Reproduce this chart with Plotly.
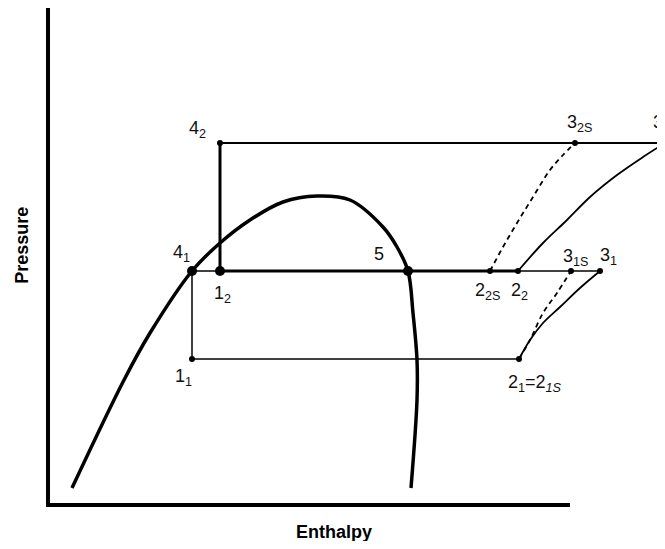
import plotly.graph_objects as go

# Saturation dome (enthalpy, pressure) in arbitrary units
dome_h = [24, 76, 102, 144, 172, 202, 235, 269, 302, 335, 349, 360, 365, 369, 369, 363]
dome_p = [17, 125, 172, 234, 262, 285, 303, 309, 305, 278, 258, 234, 192, 145, 105, 17]

# State points
p_low, p_mid, p_high = 146, 234, 362
h_41, h_12, h_5 = 144, 172, 360
h_22s, h_22, h_31s, h_31 = 442, 470, 523, 552
h_21, h_32s, h_32 = 471, 527, 617

# Compression curves
comp2_h = [470, 495, 519, 542, 569, 595, 617]
comp2_p = [234, 262, 285, 308, 330, 348, 362]
comp2s_h = [442, 455, 469, 485, 502, 515, 527]
comp2s_p = [234, 258, 282, 308, 335, 350, 362]
comp1_h = [471, 482, 495, 512, 532, 552]
comp1_p = [146, 165, 182, 198, 217, 234]
comp1s_h = [471, 482, 495, 509, 523]
comp1s_p = [146, 165, 192, 212, 234]

# Axis frame (L shape)
frame_h = [0, 0, 522]
frame_p = [497, 0, 0]

BLK = "black"
fig = go.Figure()


def line(x, y, w, dash="solid", shape="linear"):
    fig.add_trace(go.Scatter(x=x, y=y, mode="lines",
                             line=dict(color=BLK, width=w, dash=dash, shape=shape),
                             hoverinfo="skip"))


line(frame_h, frame_p, 4)
line(dome_h, dome_p, 3.5, shape="spline")

# thin cycle lines
line([h_12, h_32], [p_high, p_high], 1.8)
line([h_41, h_12], [p_mid, p_mid], 1.5)
line([h_22, h_31], [p_mid, p_mid], 1.5)
line([h_41, h_41], [p_mid, p_low], 1.5)
line([h_41, h_21], [p_low, p_low], 1.5)
# thick segments
line([h_12, h_12], [p_high, p_mid], 3)
line([h_12, h_22], [p_mid, p_mid], 3)

line(comp2_h, comp2_p, 1.8, shape="spline")
line(comp2s_h, comp2s_p, 1.8, dash="5px,4px", shape="spline")
line(comp1_h, comp1_p, 1.8, shape="spline")
line(comp1s_h, comp1s_p, 1.8, dash="5px,4px", shape="spline")

# small dots
fig.add_trace(go.Scatter(
    x=[h_12, h_32s, h_32, h_22s, h_22, h_31s, h_31, h_21, h_41],
    y=[p_high, p_high, p_high, p_mid, p_mid, p_mid, p_mid, p_low, p_low],
    mode="markers", marker=dict(color=BLK, size=6), hoverinfo="skip", cliponaxis=False))
# big dots
fig.add_trace(go.Scatter(
    x=[h_41, h_12, h_5], y=[p_mid, p_mid, p_mid],
    mode="markers", marker=dict(color=BLK, size=10), hoverinfo="skip"))

FONT = "Liberation Sans, Arial, sans-serif"
labels = [
    ("4<sub>2</sub>", h_12 - 23, p_high + 14),
    ("3<sub>2S</sub>", h_32s + 4, p_high + 20),
    ("4<sub>1</sub>", h_41 - 11, p_mid + 18),
    ("5", h_5 - 29, p_mid + 17),
    ("1<sub>2</sub>", h_12 + 2, p_mid - 23),
    ("1<sub>1</sub>", h_41 - 9, p_low - 18),
    ("2<sub>2S</sub>", h_22s - 3, p_mid - 20),
    ("2<sub>2</sub>", h_22 + 1, p_mid - 20),
    ("3<sub>1S</sub>", h_31s + 4, p_mid + 14),
    ("3<sub>1</sub>", h_31 + 8, p_mid + 15),
    ("2<sub>1</sub>=2<sub><i>1S</i></sub>", h_21 + 16, p_low - 24),
]
for txt, x, y in labels:
    fig.add_annotation(x=x, y=y, text=txt, showarrow=False,
                       font=dict(size=18, color="#111", family=FONT))

# label of state 3_2 runs off the right edge (anchor kept inside the axis range)
fig.add_annotation(x=h_32 - 5, y=p_high + 20, text="3<sub>2</sub>", showarrow=False,
                   xanchor="left", xshift=-9,
                   font=dict(size=18, color="#111", family=FONT))

fig.add_annotation(x=0.47, y=-0.046, xref="paper", yref="paper", text="<b>Enthalpy</b>",
                   showarrow=False, font=dict(size=18, color=BLK, family=FONT), yanchor="middle")
fig.add_annotation(x=-0.029, y=0.527, xref="paper", yref="paper", text="<b>Pressure</b>",
                   showarrow=False, textangle=-90,
                   font=dict(size=18, color=BLK, family=FONT), xanchor="center")

fig.update_layout(
    width=657, height=533,
    margin=dict(l=32, r=0, t=0, b=32),
    paper_bgcolor="white", plot_bgcolor="white",
    showlegend=False,
    xaxis=dict(range=[-8, 617], visible=False, fixedrange=True),
    yaxis=dict(range=[-4, 497], visible=False, fixedrange=True),
)

fig.write_html("out.html", config={"displayModeBar": False})
